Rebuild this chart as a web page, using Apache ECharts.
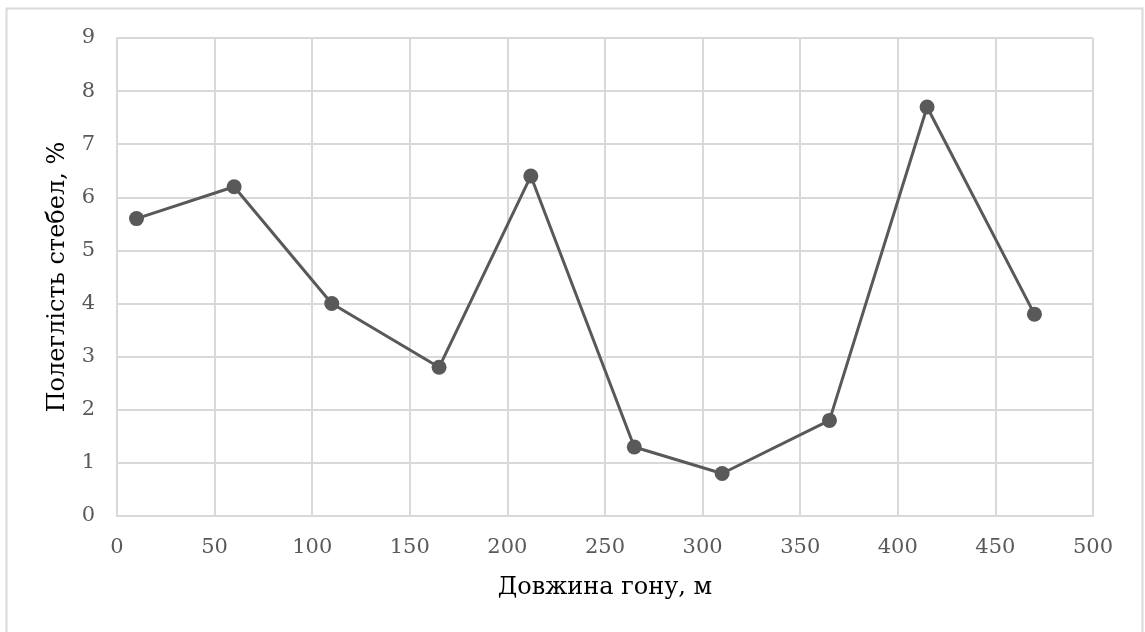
<!DOCTYPE html>
<html><head><meta charset="utf-8">
<script src="https://cdn.jsdelivr.net/npm/echarts@6/dist/echarts.min.js"></script>
<style>html,body{margin:0;padding:0;background:#fff}#c{width:1145px;height:632px}</style>
</head><body><div id="c"></div>
<script>
const xValues = [10, 60, 110, 165, 212, 265, 310, 365, 415, 470];
const yValues = [5.6, 6.2, 4.0, 2.8, 6.4, 1.3, 0.8, 1.8, 7.7, 3.8];
const xTitle = 'Довжина гону, м';
const yTitle = 'Полеглість стебел, %';
const font = 'DejaVu Serif';
const chart = echarts.init(document.getElementById('c'));
chart.setOption({
  animation: false,
  backgroundColor: '#fff',
  graphic: [{type:'rect', shape:{x:6.5,y:8.5,width:1136,height:640}, style:{fill:'none', stroke:'#d9d9d9', lineWidth:2}}],
  grid: {left:117, right:52, top:38, bottom:116},
  xAxis: {type:'value', min:0, max:500, interval:50,
    name: xTitle, nameLocation:'middle', nameGap:60,
    nameTextStyle:{fontFamily:font, fontSize:24, color:'#000'},
    axisLine:{show:true, lineStyle:{color:'#d9d9d9', width:2}},
    axisTick:{show:false},
    axisLabel:{fontFamily:font, fontSize:21, color:'#595959', margin:21},
    splitLine:{show:true, lineStyle:{color:'#d9d9d9', width:2}}},
  yAxis: {type:'value', min:0, max:9, interval:1,
    name: yTitle, nameLocation:'middle', nameGap:47,
    nameTextStyle:{fontFamily:font, fontSize:24, color:'#000'},
    axisLine:{show:true, lineStyle:{color:'#d9d9d9', width:2}},
    axisTick:{show:false},
    axisLabel:{fontFamily:font, fontSize:21, color:'#595959', margin:22},
    splitLine:{show:true, lineStyle:{color:'#d9d9d9', width:2}}},
  series: [{type:'line', data: xValues.map((x,i)=>[x, yValues[i]]),
    symbol:'circle', symbolSize:15,
    lineStyle:{color:'#595959', width:3},
    itemStyle:{color:'#595959'}}]
});
</script></body></html>
